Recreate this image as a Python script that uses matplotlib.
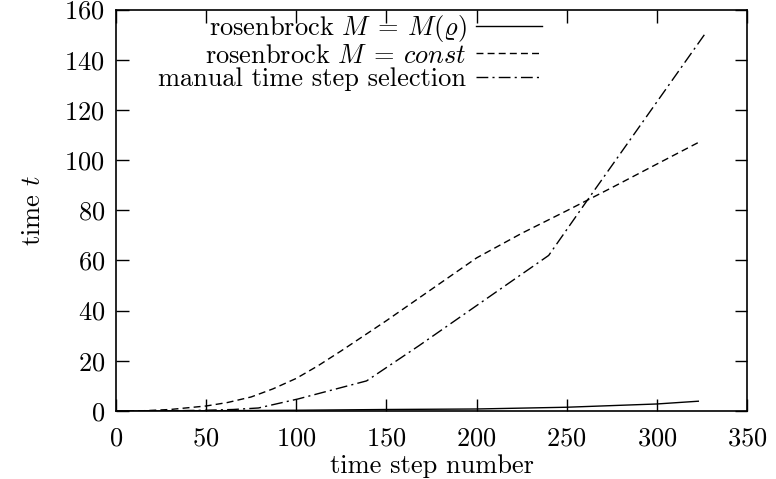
import matplotlib
matplotlib.use("Agg")
import matplotlib.pyplot as plt

plt.rcParams['font.family'] = 'serif'
plt.rcParams['font.serif'] = ['cmr10']
plt.rcParams['mathtext.fontset'] = 'cm'
plt.rcParams['axes.formatter.use_mathtext'] = True
plt.rcParams['font.size'] = 19

# data
x_var = [0, 50, 100, 150, 200, 250, 300, 323]
t_var = [0, 0.1, 0.3, 0.6, 0.8, 1.5, 2.8, 3.9]

x_const = [0, 15, 30, 50, 62, 75, 87, 100, 112, 125, 150, 175, 200, 225, 250, 275, 300, 323]
t_const = [0, 0.1, 0.6, 2.0, 3.4, 5.6, 8.8, 13, 18, 24, 36, 48.5, 61, 70.8, 79.8, 89, 98.4, 107]

x_manual = [0, 30, 50, 65, 79, 101, 139, 168, 240, 259, 327]
t_manual = [0, 0.1, 0.3, 0.6, 1.2, 4.8, 12, 26, 62, 81.5, 150.6]

labels = [r'rosenbrock $M\:=\:M(\varrho)$', r'rosenbrock $M\:=\:const$',
          'manual time step selection']

xticks = [0, 50, 100, 150, 200, 250, 300, 350]
yticks = [0, 20, 40, 60, 80, 100, 120, 140, 160]

fig = plt.figure(figsize=(7.76, 4.79), dpi=100)
ax = fig.add_axes([116/776, 1-411/479, (747-116)/776, (411-9.5)/479])

lw = 1.0
ax.plot(x_var, t_var, color='black', lw=lw, linestyle='-', label=labels[0])
ax.plot(x_const, t_const, color='black', lw=lw, linestyle=(0, (5, 3)), label=labels[1])
ax.plot(x_manual, t_manual, color='black', lw=lw, linestyle=(0, (8.5, 3, 1.5, 3)), label=labels[2])

ax.set_xlim(0, 350)
ax.set_ylim(0, 160)
ax.set_xticks(xticks)
ax.set_yticks(yticks)
ax.tick_params(direction='in', length=9, width=1.0, top=True, right=True, pad=8)
ax.tick_params(axis='x', pad=11)
for s in ax.spines.values():
    s.set_linewidth(1.2)

ax.set_xlabel('time step number', labelpad=3)
ax.set_ylabel(r'time $t$', labelpad=14)

leg = ax.legend(loc='upper right', bbox_to_anchor=(0.683, 1.005), frameon=False,
                markerfirst=False, handlelength=2.5, handletextpad=0.35,
                labelspacing=0.0, borderaxespad=0, borderpad=0.2)

fig.savefig('out.png', dpi=100)
